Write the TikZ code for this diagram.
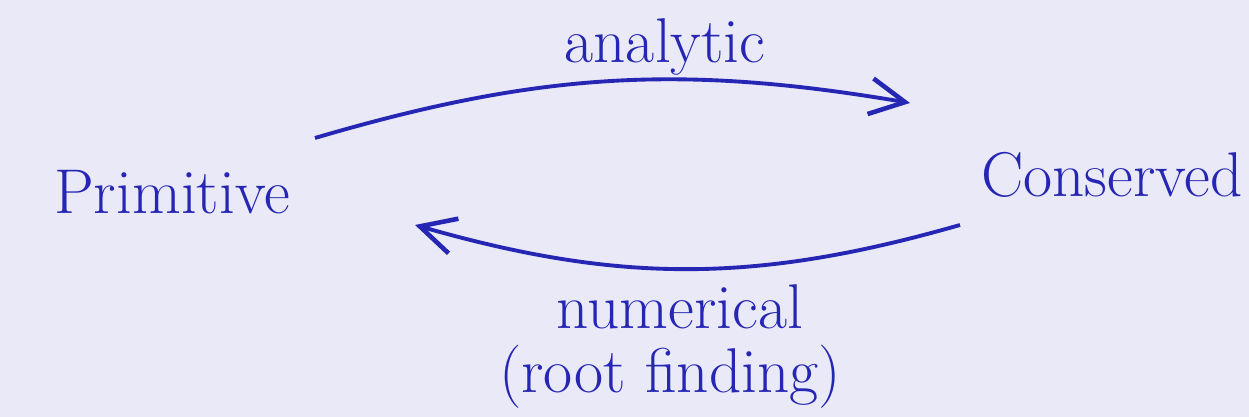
\documentclass[tikz,border=0pt]{standalone}
\usepackage{tikz}
\usetikzlibrary{positioning,arrows.meta,calc}
\definecolor{paper}{HTML}{E9E9F7}
\definecolor{ink}{HTML}{2626B4}

\begin{document}
\begin{tikzpicture}[
    word/.style={text=ink, font=\fontsize{18}{22}\selectfont, inner sep=1pt},
    flow/.style={draw=ink, line width=1.1pt, -{Straight Barb[length=3.5mm,width=3.6mm,line width=1.3pt]}},
]
\fill[paper] (0,0) rectangle (12.49,4.17);
\useasboundingbox (0,0) rectangle (12.49,4.17);
\node[word] (prim) at (1.72,2.25) {Primitive};
\node[word] (cons) at (11.12,2.42) {Conserved};
\node[word] (ana) at (6.65,3.70) {analytic};
\node[word] (num) at (6.80,1.10) {numerical};
\node[word] (root) at (6.70,0.40) {(root finding)};
\draw[flow] ([shift={(1.43,0.54)}]prim.center) to[bend left=13] ([shift={(-2.02,0.72)}]cons.center);
\draw[flow] ([shift={(-1.52,-0.50)}]cons.center) to[bend left=16] ([shift={(2.43,-0.33)}]prim.center);
\end{tikzpicture}
\end{document}
